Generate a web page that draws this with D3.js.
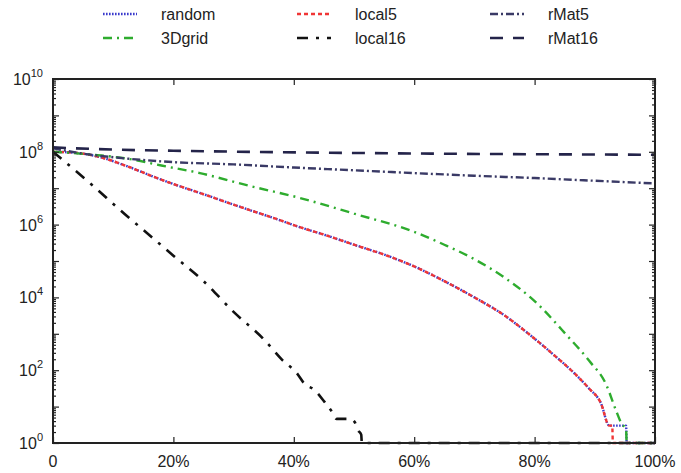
<!DOCTYPE html>
<html>
<head>
<meta charset="utf-8">
<script src="https://cdn.jsdelivr.net/npm/d3@7"></script>
<style>
  body { margin: 0; background: #fff; }
  text { font-family: "Liberation Sans", Arial, sans-serif; fill: #222; }
</style>
</head>
<body>
<div id="canvas"></div>
<script>
// percent of vertices visited (x) vs frontier size (y)
const randomX = [0, 4, 8, 12, 16, 20, 24.4, 28.5, 32.7, 37, 41, 45.5, 50, 55, 60, 65, 70, 75, 79, 83, 87, 89, 91, 92.4, 95.2, 95.3, 100];
const randomY = [1.0e8, 9.3e7, 7.0e7, 4.2e7, 2.3e7, 1.3e7, 7.4e6, 4.3e6, 2.5e6, 1.45e6, 8.5e5, 5.0e5, 2.8e5, 1.5e5, 7.1e4, 2.8e4, 1.0e4, 3.2e3, 1000, 280, 71, 32, 12.6, 3, 3, 1, 1];
const local5X = [0, 4, 8, 12, 16, 20, 24.4, 28.5, 32.7, 37, 41, 45.5, 50, 55, 60, 65, 70, 75, 79, 83, 87, 89, 91, 92.4, 92.9, 93.0, 100];
const local5Y = [1.0e8, 9.3e7, 7.0e7, 4.2e7, 2.3e7, 1.3e7, 7.4e6, 4.3e6, 2.5e6, 1.45e6, 8.5e5, 5.0e5, 2.8e5, 1.5e5, 7.1e4, 2.8e4, 1.0e4, 3.2e3, 1000, 280, 71, 32, 12.6, 3, 3, 1, 1];
const grid3dX = [0, 6, 12.8, 18, 24.4, 32.7, 41, 50, 60, 65, 70, 75, 80, 85.4, 89.1, 91.9, 93.5, 94.4, 95.2, 95.3, 100];
const grid3dY = [1.0e8, 8.5e7, 6.3e7, 4.2e7, 2.6e7, 1.15e7, 5.4e6, 2.0e6, 6.3e5, 2.8e5, 1.12e5, 3.5e4, 7.9e3, 890, 178, 40, 8, 3.5, 2.3, 1, 1];
const local16X = [0, 6.1, 11.9, 15.6, 20, 25, 30, 35, 38.1, 40.5, 41.8, 43.4, 45.1, 46.4, 47.1, 49.3, 50.1, 50.6, 51.2, 51.3, 100];
const local16Y = [1.0e8, 1.4e7, 1.95e6, 5.9e5, 1.4e5, 2.8e4, 4.0e3, 710, 190, 83, 42, 29, 13.5, 7, 4.6, 4.6, 3.8, 2.3, 1.7, 1, 1];
const rMat5X = [0, 5, 10, 20, 30, 40, 50, 60, 70, 80, 90, 100];
const rMat5Y = [1.26e8, 8.9e7, 7.1e7, 5.2e7, 4.5e7, 3.7e7, 3.1e7, 2.6e7, 2.2e7, 1.9e7, 1.6e7, 1.35e7];
const rMat16X = [0, 10, 20, 50, 100];
const rMat16Y = [1.32e8, 1.15e8, 1.07e8, 9.3e7, 8.3e7];

const seriesNames = ["random", "3Dgrid", "local5", "local16", "rMat5", "rMat16"];
const xTicks = [0, 20, 40, 60, 80, 100];
const yExponents = [0, 2, 4, 6, 8, 10];

const width = 681, height = 473;
const margin = {left: 53, right: 26, top: 79, bottom: 30};

const series = [
  {name: "random", xs: randomX, ys: randomY, color: "#3a3acc", dash: "1.6,1.4", w: 2.4},
  {name: "local5", xs: local5X, ys: local5Y, color: "#f03535", dash: "4,3", w: 2.4},
  {name: "3Dgrid", xs: grid3dX, ys: grid3dY, color: "#2eac2e", dash: "9,5,2,5", w: 2.4},
  {name: "local16", xs: local16X, ys: local16Y, color: "#111111", dash: "11,8,3,8", w: 2.6},
  {name: "rMat5", xs: rMat5X, ys: rMat5Y, color: "#3a3a66", dash: "8,3,2,3", w: 2.4},
  {name: "rMat16", xs: rMat16X, ys: rMat16Y, color: "#24244a", dash: "13,10", w: 2.6}
];

let svg = d3.select("#canvas").append("svg").attr("width", width).attr("height", height);
svg.append("rect").attr("width", width).attr("height", height).attr("fill", "#fff");

var x = d3.scaleLinear().domain([0, 100]).range([margin.left, width - margin.right]);
var y = d3.scaleLog().domain([1, 1e10]).range([height - margin.bottom, margin.top]);

// minor ticks for the log axis
let minor = [];
for (let e = 0; e < 10; e++) for (let m = 2; m < 10; m++) minor.push(m * Math.pow(10, e));
let major = d3.range(0, 11).map(e => Math.pow(10, e));

// series
let line = d3.line().x(d => x(d[0])).y(d => y(d[1])).curve(d3.curveMonotoneX);
series.forEach(s => {
  svg.append("path")
    .datum(s.xs.map((v, i) => [v, s.ys[i]]))
    .attr("d", line)
    .attr("fill", "none")
    .attr("stroke", s.color)
    .attr("stroke-width", s.w)
    .attr("stroke-dasharray", s.dash);
});

// axes
const axCol = "#222";
function styleAxis(g) {
  g.select(".domain").remove();
  g.selectAll("line").attr("stroke", axCol).attr("stroke-width", 1.2);
  g.selectAll("text").remove();
}
svg.append("g").attr("transform", "translate(" + margin.left + ",0)")
  .call(d3.axisLeft(y).tickValues(major).tickSizeInner(-6).tickSizeOuter(0)).call(styleAxis);
svg.append("g").attr("transform", "translate(" + margin.left + ",0)")
  .call(d3.axisLeft(y).tickValues(minor).tickSizeInner(-3).tickSizeOuter(0)).call(styleAxis);
svg.append("g").attr("transform", "translate(" + (width - margin.right) + ",0)")
  .call(d3.axisRight(y).tickValues(major).tickSizeInner(-6).tickSizeOuter(0)).call(styleAxis);
svg.append("g").attr("transform", "translate(" + (width - margin.right) + ",0)")
  .call(d3.axisRight(y).tickValues(minor).tickSizeInner(-3).tickSizeOuter(0)).call(styleAxis);
svg.append("g").attr("transform", "translate(0," + (height - margin.bottom) + ")")
  .call(d3.axisBottom(x).tickValues(xTicks).tickSizeInner(-6).tickSizeOuter(0)).call(styleAxis);
svg.append("g").attr("transform", "translate(0," + margin.top + ")")
  .call(d3.axisTop(x).tickValues(xTicks).tickSizeInner(-6).tickSizeOuter(0)).call(styleAxis);

svg.append("rect")
  .attr("x", margin.left).attr("y", margin.top)
  .attr("width", width - margin.left - margin.right)
  .attr("height", height - margin.top - margin.bottom)
  .attr("fill", "none").attr("stroke", axCol).attr("stroke-width", 2);

// tick labels
xTicks.forEach(t => {
  svg.append("text").attr("x", x(t)).attr("y", height - 6)
    .attr("text-anchor", "middle").style("font-size", "16px")
    .text(t === 0 ? "0" : t + "%");
});
yExponents.forEach(e => {
  let t = svg.append("text").attr("x", 43).attr("y", y(Math.pow(10, e)) + 6)
    .attr("text-anchor", "end").style("font-size", "16px");
  t.append("tspan").text("10");
  t.append("tspan").attr("dy", -8).style("font-size", "11px").text(e);
});

// legend
const legendCols = [103, 297, 490];
const legendRows = [14, 38];
const legendOrder = [["random", "local5", "rMat5"], ["3Dgrid", "local16", "rMat16"]];
legendOrder.forEach((row, ri) => {
  row.forEach((name, ci) => {
    let s = series.find(d => d.name === name);
    let lx = legendCols[ci], ly = legendRows[ri];
    svg.append("line").attr("x1", lx).attr("x2", lx + 34).attr("y1", ly).attr("y2", ly)
      .attr("stroke", s.color).attr("stroke-width", s.w).attr("stroke-dasharray", s.dash);
    svg.append("text").attr("x", lx + 58).attr("y", ly + 6).style("font-size", "16px").text(name);
  });
});
</script>
</body>
</html>
